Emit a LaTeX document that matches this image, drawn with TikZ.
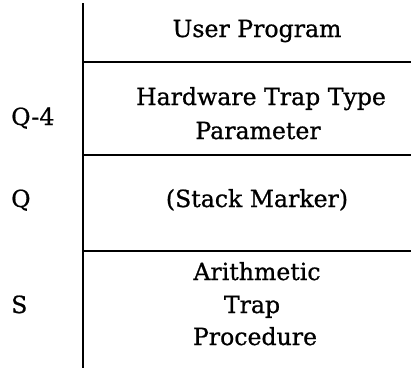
\documentclass[tikz,border=0pt]{standalone}
\usepackage{fontspec}
\setmainfont{DejaVu Serif}[FakeBold=0.8]
\begin{document}
\begin{tikzpicture}[x=1pt,y=-1pt,
  rule/.style={line width=2.6pt,black},
  celltext/.style={anchor=base,inner sep=0pt,font=\fontsize{23.6}{28}\selectfont},
  addr/.style={anchor=base west,inner sep=0pt,font=\fontsize{23.6}{28}\selectfont}]
\useasboundingbox (0,0) rectangle (411,368);
% frame lines
\coordinate (vtop) at (83,3);
\coordinate (vbot) at (83,368);
\coordinate (l1a) at (83,62);  \coordinate (l1b) at (411,62);
\coordinate (l2a) at (83,155); \coordinate (l2b) at (411,155);
\coordinate (l3a) at (83,251); \coordinate (l3b) at (411,251);
\draw[line width=2.2pt] (vtop) -- (vbot);
\draw[rule] (l1a) -- (l1b);
\draw[rule] (l2a) -- (l2b);
\draw[rule] (l3a) -- (l3b);
% cell texts
\node[celltext] (user) at (257,37) {User Program};
\node[celltext] (hw1) at (261,105) {Hardware Trap Type};
\node[celltext] (hw2) at (258,139) {Parameter};
\node[celltext] (stack) at (257,207) {(Stack Marker)};
\node[celltext] (ar1) at (257,280) {Arithmetic};
\node[celltext] (ar2) at (252,313) {Trap};
\node[celltext] (ar3) at (255,345) {Procedure};
% address labels
\node[addr] (q4) at (11,125) {Q-4};
\node[addr] (q) at (11,207) {Q};
\node[addr] (s) at (11,313) {S};
\end{tikzpicture}
\end{document}
